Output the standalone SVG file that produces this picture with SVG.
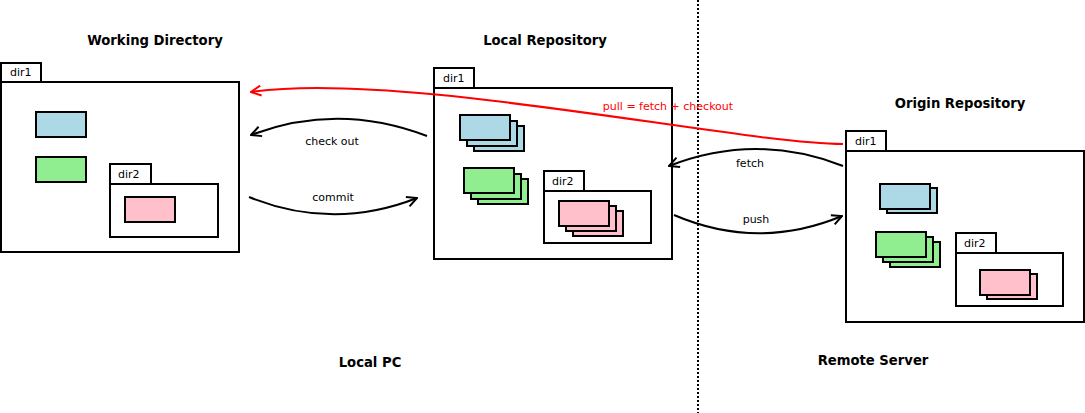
<svg xmlns="http://www.w3.org/2000/svg" width="1085" height="413" viewBox="0 0 1085 413">
<style>
  .box{fill:#fff;stroke:#000;stroke-width:2}
  .blue{fill:#ADD8E6;stroke:#000;stroke-width:2}
  .green{fill:#90EE90;stroke:#000;stroke-width:2}
  .pink{fill:#FFC0CB;stroke:#000;stroke-width:2}
  .t{font-family:"DejaVu Sans",Verdana,sans-serif;font-size:11px;fill:#000}
  .title{font-family:"DejaVu Sans",Verdana,sans-serif;font-size:13.2px;font-weight:bold;fill:#000}
  .conn{fill:none;stroke:#000;stroke-width:2}
  .red{fill:none;stroke:#f00;stroke-width:2}
</style>
<defs>
  <marker id="ah" viewBox="0 0 12 12" refX="11" refY="6" markerWidth="12" markerHeight="12" markerUnits="userSpaceOnUse" orient="auto">
    <path d="M1,1 L11,6 L1,11" fill="none" stroke="#000" stroke-width="2"/>
  </marker>
  <marker id="ahr" viewBox="0 0 12 12" refX="11" refY="6" markerWidth="12" markerHeight="12" markerUnits="userSpaceOnUse" orient="auto">
    <path d="M1,1 L11,6 L1,11" fill="none" stroke="#f00" stroke-width="2"/>
  </marker>
</defs>
<rect width="1085" height="413" fill="#fff"/>

<line x1="698" y1="0" x2="698" y2="413" stroke="#000" stroke-width="2" stroke-dasharray="2,2"/>

<text class="title" x="155" y="45" text-anchor="middle">Working Directory</text>
<text class="title" x="545" y="45" text-anchor="middle">Local Repository</text>
<text class="title" x="960" y="108" text-anchor="middle">Origin Repository</text>
<text class="title" x="370" y="367" text-anchor="middle">Local PC</text>
<text class="title" x="873" y="365" text-anchor="middle">Remote Server</text>

<g id="working-directory">
  <rect class="box" x="1" y="63" width="40" height="19"/>
  <text class="t" x="10" y="76">dir1</text>
  <rect class="box" x="1" y="82" width="238" height="170"/>
  <rect class="blue" x="36" y="112" width="50" height="25"/>
  <rect class="green" x="36" y="157" width="50" height="25"/>
  <rect class="box" x="110" y="164" width="41" height="20"/>
  <text class="t" x="118" y="178">dir2</text>
  <rect class="box" x="110" y="184" width="108" height="53"/>
  <rect class="pink" x="125" y="197" width="50" height="25"/>
</g>

<g id="local-repository">
  <rect class="box" x="434" y="68" width="40" height="20"/>
  <text class="t" x="443" y="82">dir1</text>
  <rect class="box" x="434" y="88" width="238" height="171"/>
  <rect class="blue" x="474" y="126" width="50" height="25"/>
  <rect class="blue" x="467" y="121" width="50" height="25"/>
  <rect class="blue" x="460" y="115" width="50" height="25"/>
  <rect class="green" x="478" y="179" width="50" height="25"/>
  <rect class="green" x="471" y="174" width="50" height="25"/>
  <rect class="green" x="464" y="168" width="50" height="25"/>
  <rect class="box" x="544" y="171" width="40" height="20"/>
  <text class="t" x="552" y="185">dir2</text>
  <rect class="box" x="544" y="191" width="107" height="52"/>
  <rect class="pink" x="573" y="211" width="50" height="25"/>
  <rect class="pink" x="566" y="206" width="50" height="25"/>
  <rect class="pink" x="559" y="201" width="50" height="25"/>
</g>

<g id="origin-repository">
  <rect class="box" x="846" y="131" width="40" height="20"/>
  <text class="t" x="855" y="145">dir1</text>
  <rect class="box" x="846" y="151" width="238" height="171"/>
  <rect class="blue" x="887" y="188" width="50" height="25"/>
  <rect class="blue" x="880" y="184" width="50" height="25"/>
  <rect class="green" x="890" y="242" width="50" height="25"/>
  <rect class="green" x="883" y="237" width="50" height="25"/>
  <rect class="green" x="876" y="232" width="50" height="25"/>
  <rect class="box" x="956" y="233" width="40" height="20"/>
  <text class="t" x="964" y="247">dir2</text>
  <rect class="box" x="956" y="253" width="107" height="53"/>
  <rect class="pink" x="987" y="274" width="50" height="25"/>
  <rect class="pink" x="980" y="270" width="50" height="25"/>
</g>

<g id="connectors">
  <path class="red" d="M843,144 C740,144 400,70 251,92" marker-end="url(#ahr)"/>
  <path class="conn" d="M427,136 Q338,102 251,135" marker-end="url(#ah)"/>
  <path class="conn" d="M249,197 Q333,231 417,198" marker-end="url(#ah)"/>
  <path class="conn" d="M843,166 Q756,132 669,166" marker-end="url(#ah)"/>
  <path class="conn" d="M674,215 Q758,251 842,216" marker-end="url(#ah)"/>
  <text class="t" x="668" y="110" text-anchor="middle" fill="#f00" style="fill:#f00">pull = fetch + checkout</text>
  <text class="t" x="332" y="145" text-anchor="middle">check out</text>
  <text class="t" x="333" y="201" text-anchor="middle">commit</text>
  <text class="t" x="750" y="167" text-anchor="middle">fetch</text>
  <text class="t" x="756" y="223" text-anchor="middle">push</text>
</g>
</svg>
